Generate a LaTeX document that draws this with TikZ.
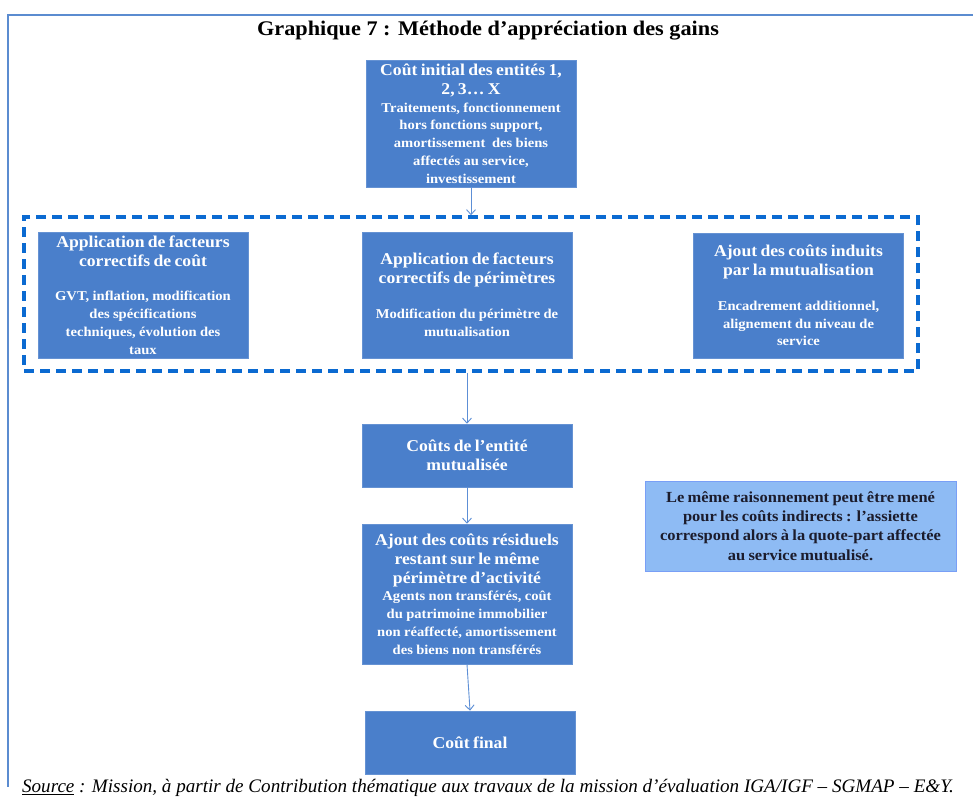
\documentclass[tikz,border=0pt]{standalone}
\usepackage{fontspec}
\setmainfont{Liberation Serif}
\newfontfamily\wideserif[FakeStretch=1.07]{Liberation Serif}
\newfontfamily\bodyserif[FakeStretch=1.08]{Liberation Serif}
\usetikzlibrary{arrows.meta}
\definecolor{boxblue}{HTML}{4A7FCB}
\definecolor{dashblue}{HTML}{0B6AD1}
\definecolor{frameblue}{HTML}{5B8CD0}
\definecolor{notefill}{HTML}{8EBBF4}
\definecolor{arrowblue}{HTML}{5D8FD6}
\definecolor{notetext}{HTML}{1C1C2C}
\newcommand{\hdf}{\wideserif\fontsize{16.5}{19}\selectfont\bfseries}
\newcommand{\bdf}{\bodyserif\fontsize{13.5}{17.8}\selectfont\bfseries}
\newcommand{\ntf}{\wideserif\fontsize{15.4}{19.3}\selectfont\bfseries}
\begin{document}
\begin{tikzpicture}[x=1pt,y=-1pt,
  box/.style={fill=boxblue, draw=boxblue!85!white, line width=0.6pt, text=white,
    align=center, inner sep=0pt, minimum width=210pt, text width=208pt},
  grpbox/.style={draw=dashblue, line width=3.5pt, dash pattern=on 10pt off 6pt,
    minimum width=894pt, minimum height=154pt, inner sep=0pt},
  notebox/.style={fill=notefill, draw=notefill!85!blue, line width=0.5pt, text=notetext,
    align=center, inner sep=0pt, minimum width=311pt, minimum height=90pt, text width=309pt},
  arr/.style={draw=arrowblue, line width=0.9pt, -{Straight Barb[length=5pt,width=9pt]}}
]
\useasboundingbox (0,0) rectangle (973,801);
\fill[white] (0,0) rectangle (973,801);
% frame
\draw[frameblue, line width=2.5pt] (973,15) -- (8,15) -- (8,787);
% title
\node[font=\wideserif\fontsize{20.8}{24}\selectfont\bfseries] (title) at (488,31) {Graphique 7 : Méthode d’appréciation des gains};
% top box
\node[box, minimum height=127pt] (init) at (471,123.5)
  {{\hdf Coût initial des entités 1,\\ 2, 3… X\par}{\bdf Traitements, fonctionnement\\hors fonctions support,\\amortissement\ \ des biens\\affectés au service,\\investissement\par}};
% dashed group
\node[grpbox] (grp) at (471,294) {};
% three boxes
\node[box, minimum height=126pt] (fac) at (143,295)
  {{\hdf Application de facteurs\\correctifs de coût\par}\vspace{17pt}{\bdf GVT, inflation, modification\\des spécifications\\techniques, évolution des\\taux\par}};
\node[box, minimum height=126pt] (per) at (467,295)
  {{\hdf Application de facteurs\\correctifs de périmètres\par}\vspace{17pt}{\bdf Modification du périmètre de\\mutualisation\par}};
\node[box, minimum height=125pt] (ind) at (798.5,295.5)
  {{\hdf Ajout des coûts induits\\par la mutualisation\par}\vspace{17pt}{\bdf Encadrement additionnel,\\alignement du niveau de\\service\par}};
% vertical chain
\node[box, minimum height=63pt] (ent) at (467,455.5)
  {{\hdf Coûts de l’entité\\mutualisée\par}};
\node[box, minimum height=140pt] (res) at (467,594)
  {{\hdf Ajout des coûts résiduels\\restant sur le même\\périmètre d’activité\par}{\bdf Agents non transférés, coût\\du patrimoine immobilier\\non réaffecté, amortissement\\des biens non transférés\par}};
\node[box, minimum height=63pt] (fin) at (470,742.5)
  {{\hdf Coût final\par}};
% note
\node[notebox] (note) at (800.5,526)
  {{\ntf Le même raisonnement peut être mené\\pour les coûts indirects : l’assiette\\correspond alors à la quote-part affectée\\au service mutualisé.\par}};
% source
\node[font=\fontsize{19.1}{22}\selectfont\itshape] (src) at (488,788)
  {\underline{Source} : Mission, à partir de Contribution thématique aux travaux de la mission d’évaluation IGA/IGF – SGMAP – E\&Y.};
% arrows
\draw[arr] (init.south) -- (grp.north);
\draw[arr] (grp.south -| ent.north) -- (ent.north);
\draw[arr] (ent.south) -- (res.north);
\draw[arr] (res.south) -- (fin.north);
\end{tikzpicture}
\end{document}
